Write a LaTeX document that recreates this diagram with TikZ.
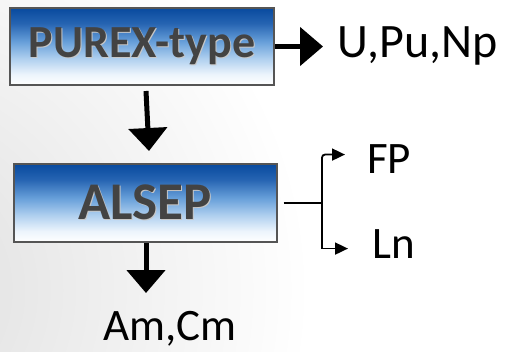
\documentclass[tikz,border=0pt]{standalone}
\usepackage{fontspec}
\setmainfont{Carlito}
\usetikzlibrary{arrows.meta}
\definecolor{boxline}{HTML}{555555}
\definecolor{boxtext}{HTML}{434343}
\pgfdeclareverticalshading{boxshade}{100bp}{%
  color(0bp)=(white); color(25bp)=(white);
  color(32bp)=(rgb,255:red,236;green,244;blue,252);
  color(42bp)=(rgb,255:red,176;green,208;blue,239);
  color(53bp)=(rgb,255:red,104;green,160;blue,218);
  color(65bp)=(rgb,255:red,38;green,100;blue,178);
  color(75bp)=(rgb,255:red,8;green,74;blue,158);
  color(100bp)=(rgb,255:red,8;green,74;blue,158)}
\newcommand{\shadowtxt}[1]{\rlap{\raisebox{-1pt}{\hspace{1pt}\textcolor{black!22}{#1}}}#1}
\tikzset{
  procbox/.style={draw=boxline, line width=2pt, shading=boxshade,
    inner sep=0pt, text=boxtext, font=\bfseries},
  lbl/.style={inner sep=0pt, font=\fontsize{45}{50}\selectfont, text=black},
  bigarrow/.style={line width=5pt, -{Triangle[length=23pt,width=38pt]}},
  thinarrow/.style={line width=1.8pt, -{Triangle[length=13pt,width=12pt]}}
}
\begin{document}
\begin{tikzpicture}[x=1pt,y=1pt]
\useasboundingbox (0,0) rectangle (508,-351);
\fill[white] (0,0) rectangle (508,-351);
\begin{scope}
\clip (0,0) rectangle (508,-351);
\shade[inner color=black!13, outer color=white] (-110,-290) circle (420);
\end{scope}
\node[procbox, minimum width=264, minimum height=77, font=\bfseries\fontsize{46}{50}\selectfont] (b1) at (142,-46.5) {\shadowtxt{PUREX-type}};
\node[procbox, minimum width=263, minimum height=78, font=\bfseries\fontsize{53}{56}\selectfont] (b2) at (145,-203) {\shadowtxt{ALSEP}};
\node[lbl, anchor=base west, font=\fontsize{48}{52}\selectfont] (u) at (337,-57) {U,Pu,Np};
\node[lbl, anchor=base] (am) at (170,-340) {Am,Cm};
\node[lbl, anchor=base west] (fp) at (367,-173) {FP};
\node[lbl, anchor=base west] (ln) at (372,-258) {Ln};
\coordinate (j) at (322,-203);
\draw[bigarrow] (b1.east) -- ([xshift=-14pt]u.west |- b1.east);
\draw[bigarrow] ([xshift=4pt,yshift=-5pt]b1.south) -- ([xshift=4pt,yshift=12pt]b2.north);
\draw[bigarrow] ([xshift=1pt]b2.south) -- ([xshift=1pt,yshift=-50pt]b2.south);
\draw[line width=1.8pt, shorten <=6pt] (b2.east) -- (j);
\draw[thinarrow, rounded corners=3pt] (j) |- ([xshift=-22pt,yshift=4pt]fp.west);
\draw[thinarrow] (j) |- ([xshift=-24pt,yshift=-5pt]ln.west);
\end{tikzpicture}
\end{document}
